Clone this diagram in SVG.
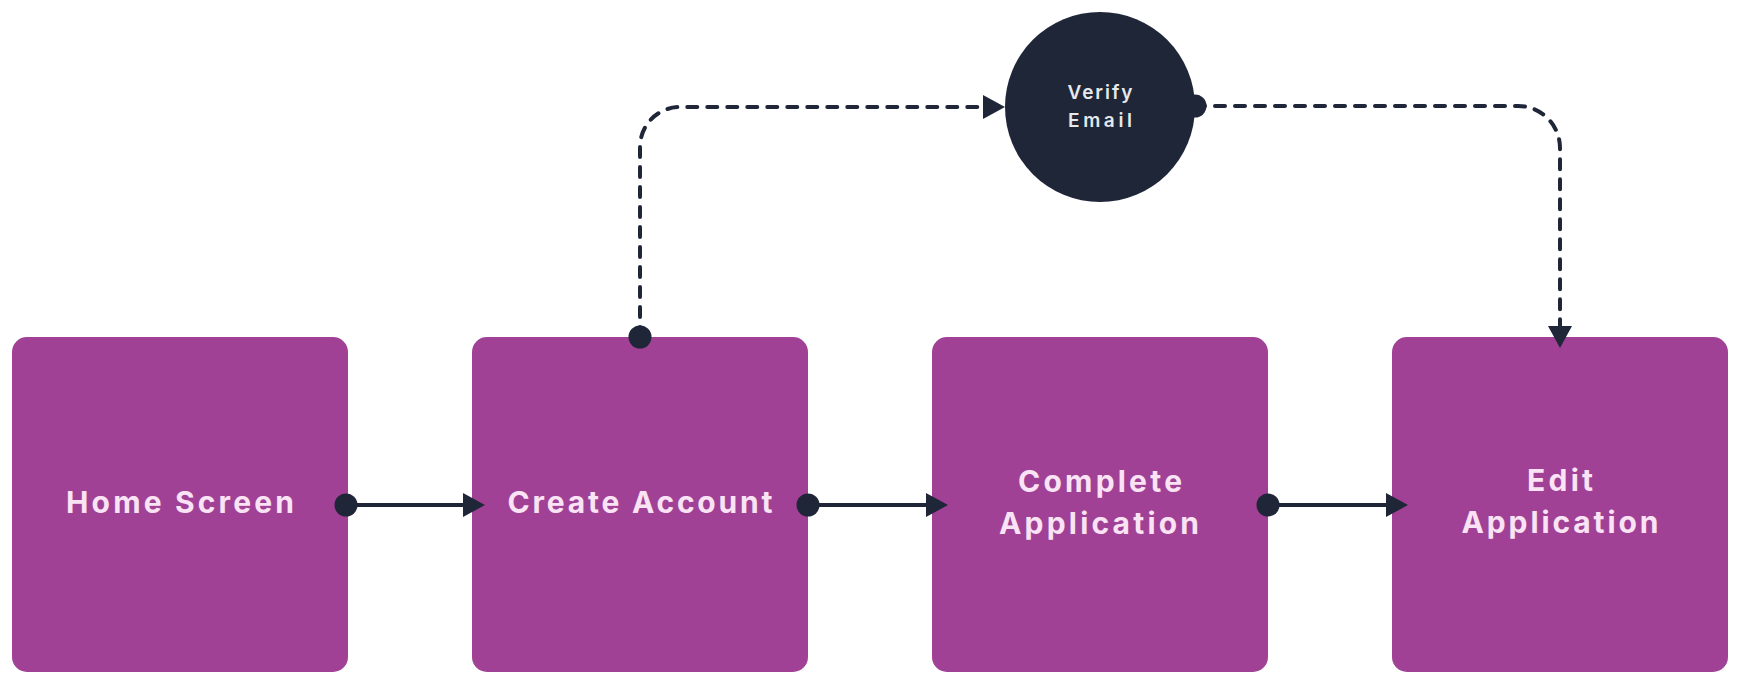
<svg xmlns="http://www.w3.org/2000/svg" width="1740" height="685" viewBox="0 0 1740 685">
  <style>
    .box { fill: #A04195; }
    .lbl { font-family: Inter, "Open Sans", "Liberation Sans", sans-serif; font-weight: 700; font-size: 30px; fill: #F9E3F5; text-anchor: middle; }
    .clbl { font-family: Inter, "Open Sans", "Liberation Sans", sans-serif; font-weight: 600; font-size: 19px; fill: #E6E8EC; text-anchor: middle; }
    .solid { fill: none; stroke: #1E2638; stroke-width: 4; }
    .dash { fill: none; stroke: #1E2638; stroke-width: 4; stroke-dasharray: 10 10; stroke-linecap: round; }
  </style>
  <defs>
    <marker id="arrow" markerUnits="userSpaceOnUse" markerWidth="24" markerHeight="26" refX="0" refY="12" orient="auto" overflow="visible">
      <path d="M0,0 L22,12 L0,24 Z" fill="#1E2638"/>
    </marker>
    <marker id="dot" markerUnits="userSpaceOnUse" markerWidth="26" markerHeight="26" refX="12" refY="12" orient="auto" overflow="visible">
      <circle cx="12" cy="12" r="11.5" fill="#1E2638"/>
    </marker>
  </defs>
  <rect width="1740" height="685" fill="#FFFFFF"/>

  <g id="home-screen">
    <rect class="box" x="12" y="337" width="336" height="335" rx="15"/>
    <text class="lbl" x="180" y="513" textLength="228" lengthAdjust="spacing">Home Screen</text>
  </g>
  <g id="create-account">
    <rect class="box" x="472" y="337" width="336" height="335" rx="15"/>
    <text class="lbl" x="640" y="513" textLength="265" lengthAdjust="spacing">Create Account</text>
  </g>
  <g id="complete-application">
    <rect class="box" x="932" y="337" width="336" height="335" rx="15"/>
    <text class="lbl" x="1100" y="492" textLength="164" lengthAdjust="spacing">Complete</text>
    <text class="lbl" x="1099" y="534" textLength="200" lengthAdjust="spacing">Application</text>
  </g>
  <g id="edit-application">
    <rect class="box" x="1392" y="337" width="336" height="335" rx="15"/>
    <text class="lbl" x="1560" y="491" textLength="66" lengthAdjust="spacing">Edit</text>
    <text class="lbl" x="1560" y="533" textLength="197" lengthAdjust="spacing">Application</text>
  </g>
  <g id="verify-email">
    <circle cx="1100" cy="107" r="95" fill="#1E2638"/>
    <text class="clbl" x="1100" y="99" textLength="65" lengthAdjust="spacing">Verify</text>
    <text class="clbl" x="1100" y="127" textLength="64" lengthAdjust="spacing">Email</text>
  </g>

  <g id="connectors">
    <path class="solid" d="M346,505 H463" marker-start="url(#dot)" marker-end="url(#arrow)"/>
    <path class="solid" d="M808,505 H926" marker-start="url(#dot)" marker-end="url(#arrow)"/>
    <path class="solid" d="M1268,505 H1386" marker-start="url(#dot)" marker-end="url(#arrow)"/>
    <path class="dash" d="M640,337 V147 A40,40 0 0 1 680,107 H983" marker-start="url(#dot)" marker-end="url(#arrow)"/>
    <path class="dash" d="M1195,106 H1518 A42,42 0 0 1 1560,148 V326" marker-start="url(#dot)" marker-end="url(#arrow)"/>
  </g>
</svg>
